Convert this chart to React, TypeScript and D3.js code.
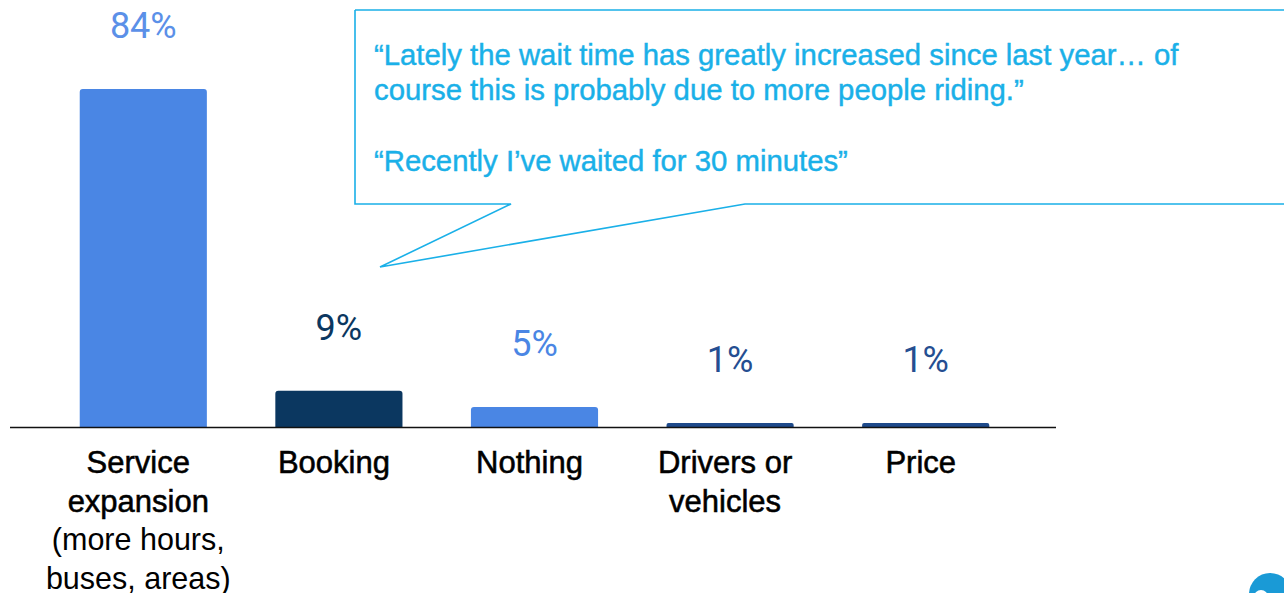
import React from "react";
import * as d3 from "d3";

const categories: string[][] = [
  ["Service", "expansion", "(more hours,", "buses, areas)"],
  ["Booking"],
  ["Nothing"],
  ["Drivers or", "vehicles"],
  ["Price"],
];
const values: number[] = [84, 9, 5, 1, 1];
const valueLabels: string[] = ["84%", "9%", "5%", "1%", "1%"];
const barColors: string[] = ["#4a86e4", "#0b3760", "#4a86e4", "#1e4a8b", "#1e4a8b"];
const labelColors: string[] = ["#5b90e8", "#0b3760", "#4a86e4", "#254e91", "#254e91"];
const quoteLines: string[] = [
  "\u201CLately the wait time has greatly increased since last year\u2026 of",
  "course this is probably due to more people riding.\u201D",
  "",
  "\u201CRecently I\u2019ve waited for 30 minutes\u201D",
];

const W = 1284;
const H = 593;

export default function App() {
  const keys = categories.map((_, i) => String(i));
  const x = d3.scaleBand<string>().domain(keys).range([45.5, 1023.5]).paddingInner(0.35).paddingOuter(0.175);
  const baseY = 427;
  const y = d3.scaleLinear().domain([0, 84]).range([baseY, 89]);
  const quoteColor = "#1ab0e8";
  const calloutPath = d3.path();
  calloutPath.moveTo(355, 10);
  calloutPath.lineTo(1290, 10);
  calloutPath.moveTo(355, 10);
  calloutPath.lineTo(355, 204);
  calloutPath.lineTo(511, 204);
  calloutPath.lineTo(380, 267);
  calloutPath.lineTo(745, 204);
  calloutPath.lineTo(1290, 204);

  return (
    <div style={{ position: "absolute", left: 0, top: 0, width: W, height: H, overflow: "hidden", background: "#fff" }}>
      <svg width={W} height={H} style={{ display: "block" }}>
        <rect width={W} height={H} fill="#fff" />
        {values.map((v, i) => {
          const bx = x(String(i))!;
          const bw = x.bandwidth();
          const top = y(v);
          const hgt = baseY - top;
          const r = Math.min(3, hgt / 2);
          const p = d3.path();
          p.moveTo(bx, baseY);
          p.lineTo(bx, top + r);
          p.quadraticCurveTo(bx, top, bx + r, top);
          p.lineTo(bx + bw - r, top);
          p.quadraticCurveTo(bx + bw, top, bx + bw, top + r);
          p.lineTo(bx + bw, baseY);
          p.closePath();
          return <path key={"b" + i} d={p.toString()} fill={barColors[i]} />;
        })}
        <line x1={10} x2={1056} y1={baseY + 0.5} y2={baseY + 0.5} stroke="#111" strokeWidth={1.5} />
        {values.map((v, i) => (
          <text
            key={"v" + i}
            x={x(String(i))! + x.bandwidth() / 2}
            y={y(v) - 51}
            textAnchor="middle"
            fontFamily="Roboto, 'Noto Sans', sans-serif"
            fontSize={36}
            fontWeight={400}
            fill={labelColors[i]}
          >
            {valueLabels[i]}
          </text>
        ))}
        {categories.map((lines, i) => (
          <text
            key={"c" + i}
            textAnchor="middle"
            fontFamily="'Liberation Sans', Arial, sans-serif"
            fill="#000"
          >
            {lines.map((ln, j) => (
              <tspan
                key={j}
                x={x(String(i))! + x.bandwidth() / 2 - 5}
                y={473 + j * 38.5}
                fontSize={j >= 2 ? 30.5 : 31}
                stroke={j >= 2 ? "none" : "#000"}
                strokeWidth={0.55}
              >
                {ln}
              </tspan>
            ))}
          </text>
        ))}
        <path d={calloutPath.toString()} fill="none" stroke={quoteColor} strokeWidth={1.6} />
        <text
          fontFamily="'Liberation Sans', Arial, sans-serif"
          fontSize={29.3}
          fill={quoteColor}
          stroke={quoteColor}
          strokeWidth={0.45}
        >
          {quoteLines.map((ln, j) =>
            ln ? (
              <tspan key={j} x={374} y={65 + j * 35.3}>
                {ln}
              </tspan>
            ) : null
          )}
        </text>
        <circle cx={1270} cy={594} r={21} fill="#1a9ad6" />
        <circle cx={1261} cy={597} r={7} fill="#fff" />
      </svg>
    </div>
  );
}
